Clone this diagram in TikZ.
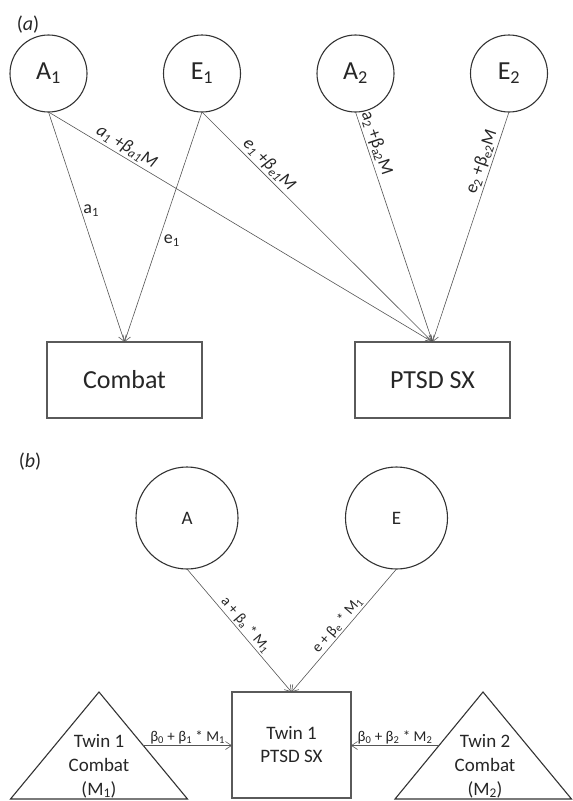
\documentclass[tikz,border=0pt]{standalone}
\usepackage{fontspec}
\setmainfont{Carlito}
\usetikzlibrary{arrows.meta, positioning, calc}
\definecolor{circgray}{HTML}{333333}
\definecolor{boxgray}{HTML}{5A5A5A}
\definecolor{linegray}{HTML}{555555}
\definecolor{txtgray}{HTML}{262626}

\begin{document}
\begin{tikzpicture}[x=1pt, y=-1pt, >={Straight Barb[length=6pt,width=8pt]},
  latent/.style={circle, draw=circgray, line width=1.1pt, minimum size=77pt, inner sep=0pt, outer sep=0pt, text=txtgray, font=\fontsize{26}{30}\selectfont},
  latentb/.style={latent, minimum size=102pt, font=\fontsize{19}{23}\selectfont},
  obs/.style={rectangle, draw=boxgray, line width=1.2pt, minimum width=155pt, minimum height=76pt, outer sep=0pt, text=txtgray, align=center, font=\fontsize{26}{30}\selectfont},
  obsb/.style={obs, minimum width=119pt, minimum height=106pt, font=\fontsize{19}{23}\selectfont},
  tri/.style={draw=circgray, line width=1.1pt, line join=miter},
  trilab/.style={text=txtgray, align=center, inner sep=0pt, font=\fontsize{19}{24}\selectfont},
  link/.style={->, draw=linegray, line width=0.6pt},
  lab/.style={text=txtgray, inner sep=2pt, font=\fontsize{18}{20}\selectfont},
  labb/.style={text=txtgray, inner sep=1.5pt, font=\fontsize{15}{17}\selectfont},
  panel/.style={text=txtgray, inner sep=0pt, font=\fontsize{20}{24}\selectfont}]

\useasboundingbox (0,0) rectangle (573,801);

% Panel (a)
\node[panel] (pa) at (28,25) {(\textit{a})};
\node[latent] (A1) at (48.5,73.5) {A\textsubscript{1}};
\node[latent, right=76.5pt of A1] (E1) {E\textsubscript{1}};
\node[latent, right=76.5pt of E1] (A2) {A\textsubscript{2}};
\node[latent, right=76.5pt of A2] (E2) {E\textsubscript{2}};
\node[obs] (combat) at (124.5,380) {Combat};
\node[obs, right=153pt of combat] (ptsd) {PTSD SX};

\draw[link] (A1.south) -- node[lab, pos=0.43, right] {a\textsubscript{1}} (combat.north);
\draw[link] (A1.south) -- node[lab, pos=0.19, sloped, above] {\textit{a\textsubscript{1} +β\textsubscript{a1}M}} (ptsd.north);
\draw[link] (E1.south) -- node[lab, pos=0.56, right, inner sep=5pt] {e\textsubscript{1}} (combat.north);
\draw[link] (E1.south) -- node[lab, pos=0.26, sloped, above] {\textit{e\textsubscript{1} +β\textsubscript{e1}M}} (ptsd.north);
\draw[link] (A2.south) -- node[lab, pos=0.15, sloped, above] {a\textsubscript{2} +β\textsubscript{a2}M} (ptsd.north);
\draw[link] (E2.south) -- node[lab, pos=0.23, sloped, above] {e\textsubscript{2} +β\textsubscript{e2}M} (ptsd.north);

% Panel (b)
\node[panel] (pb) at (30,462) {(\textit{b})};
\node[latentb] (A) at (187,518) {A};
\node[latentb, right=107.5pt of A] (E) {E};
\node[obsb] (tw1) at (291.5,745) {Twin 1\\PTSD SX};

% Triangulos de combate
\coordinate (m1top) at (99,692);
\coordinate (m1l) at (10.5,799);
\coordinate (m1r) at (187.5,799);
\draw[tri] (m1top) -- (m1r) -- (m1l) -- cycle;
\node[trilab] (m1) at (99,766) {Twin 1\\Combat\\(M\textsubscript{1})};
\coordinate (m1out) at ($(m1top)!0.5!(m1r)$);

\coordinate (m2top) at (483,692);
\coordinate (m2l) at (395,799);
\coordinate (m2r) at (571.5,799);
\draw[tri] (m2top) -- (m2r) -- (m2l) -- cycle;
\node[trilab] (m2) at (485,766) {Twin 2\\Combat\\(M\textsubscript{2})};
\coordinate (m2out) at ($(m2top)!0.5!(m2l)$);

\draw[link] (A.south) -- node[labb, pos=0.5, sloped, above] {a + β\textsubscript{a} * M\textsubscript{1}} (tw1.north);
\draw[link] (E.south) -- node[labb, pos=0.5, sloped, above] {e + β\textsubscript{e} * M\textsubscript{1}} (tw1.north);
\draw[link] (m1out) -- node[labb, above] {β\textsubscript{0} + β\textsubscript{1} * M\textsubscript{1}} (m1out -| tw1.west);
\draw[link] (m2out) -- node[labb, above] {β\textsubscript{0} + β\textsubscript{2} * M\textsubscript{2}} (m2out -| tw1.east);

\end{tikzpicture}
\end{document}
